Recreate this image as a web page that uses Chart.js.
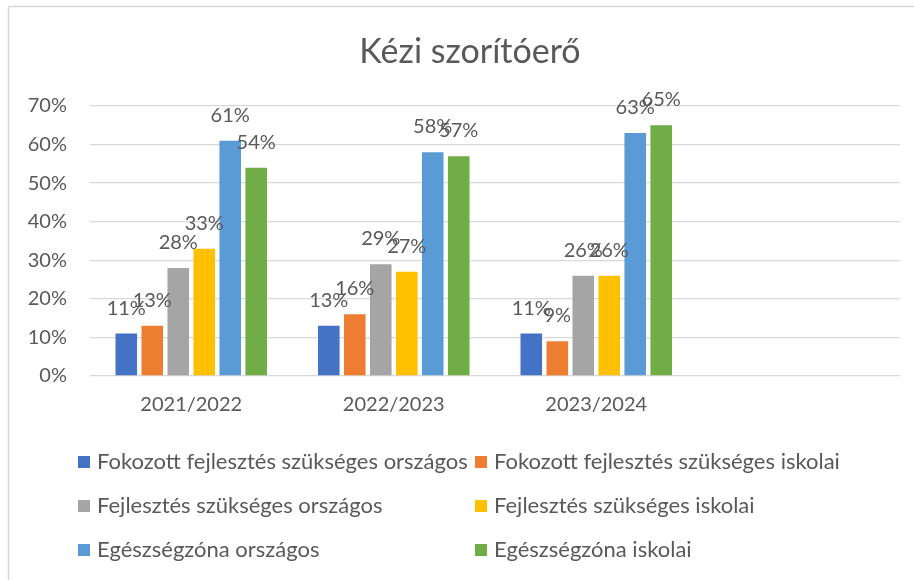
<!DOCTYPE html>
<html lang="hu">
<head>
    <meta charset="UTF-8">
    <title>Kézi szorítóerő</title>
    <script src="https://cdn.jsdelivr.net/npm/chart.js"></script>
    <style>
        body { margin: 0; background: #fff; }
    </style>
</head>
<body>
    <canvas id="gripChart" width="914" height="580"></canvas>

    <script>
        // data (percent)
        const chartTitle = 'Kézi szorítóerő';
        const years = ['2021/2022', '2022/2023', '2023/2024', ''];
        const seriesNames = [
            'Fokozott fejlesztés szükséges országos',
            'Fokozott fejlesztés szükséges iskolai',
            'Fejlesztés szükséges országos',
            'Fejlesztés szükséges iskolai',
            'Egészségzóna országos',
            'Egészségzóna iskolai'
        ];
        const fokozottOrszagos = [11, 13, 11];
        const fokozottIskolai = [13, 16, 9];
        const fejlesztesOrszagos = [28, 29, 26];
        const fejlesztesIskolai = [33, 27, 26];
        const egeszsegOrszagos = [61, 58, 63];
        const egeszsegIskolai = [54, 57, 65];
        const colors = ['#4472C4', '#ED7D31', '#A5A5A5', '#FFC000', '#5B9BD5', '#70AD47'];

        const allValues = [fokozottOrszagos, fokozottIskolai, fejlesztesOrszagos,
                           fejlesztesIskolai, egeszsegOrszagos, egeszsegIskolai];

        const textColor = '#595959';
        const fontFamily = 'Lato, "Open Sans", sans-serif';

        // outer frame + title (title centred on the whole frame, not the canvas)
        const framePlugin = {
            id: 'frame',
            beforeDraw(chart) {
                const ctx = chart.ctx;
                ctx.save();
                ctx.strokeStyle = '#d9d9d9';
                ctx.lineWidth = 1.5;
                ctx.strokeRect(8.5, 6.5, 1000, 1000);
                ctx.font = '34px ' + fontFamily;
                ctx.fillStyle = textColor;
                ctx.textAlign = 'center';
                ctx.textBaseline = 'alphabetic';
                ctx.fillText(chartTitle, 470, 63);
                ctx.restore();
            }
        };

        // value labels above the bars
        const valueLabels = {
            id: 'valueLabels',
            afterDatasetsDraw(chart) {
                const ctx = chart.ctx;
                ctx.save();
                ctx.font = '20px ' + fontFamily;
                ctx.fillStyle = textColor;
                ctx.textAlign = 'center';
                ctx.textBaseline = 'alphabetic';
                chart.data.datasets.forEach((ds, i) => {
                    chart.getDatasetMeta(i).data.forEach((bar, j) => {
                        const v = ds.data[j];
                        if (v == null) return;
                        ctx.fillText(v + '%', bar.x, bar.y - 19);
                    });
                });
                ctx.restore();
            }
        };

        // two-column legend under the chart
        const gridLegend = {
            id: 'gridLegend',
            afterDraw(chart) {
                const ctx = chart.ctx;
                const cols = [78, 475];
                const rows = [462, 506, 550];
                ctx.save();
                ctx.font = '22px ' + fontFamily;
                ctx.textBaseline = 'middle';
                ctx.textAlign = 'left';
                chart.data.datasets.forEach((ds, i) => {
                    const x = cols[i % 2];
                    const y = rows[Math.floor(i / 2)];
                    ctx.fillStyle = ds.backgroundColor;
                    ctx.fillRect(x, y - 6, 12, 12);
                    ctx.fillStyle = textColor;
                    ctx.fillText(ds.label, x + 19, y);
                });
                ctx.restore();
            }
        };

        const ctx = document.getElementById('gripChart').getContext('2d');

        const gripChart = new Chart(ctx, {
            type: 'bar',
            data: {
                labels: years,
                datasets: seriesNames.map((name, i) => ({
                    label: name,
                    data: allValues[i],
                    backgroundColor: colors[i],
                    categoryPercentage: 0.77,
                    barPercentage: 0.83
                }))
            },
            options: {
                responsive: false,
                animation: false,
                layout: {
                    padding: { top: 106, left: 0, right: 14, bottom: 0 }
                },
                plugins: {
                    legend: { display: false },
                    tooltip: { enabled: false },
                    title: { display: false }
                },
                scales: {
                    x: {
                        grid: { display: false, drawTicks: false },
                        border: { display: false },
                        ticks: {
                            color: textColor,
                            font: { family: fontFamily, size: 20 },
                            padding: 17
                        },
                        afterFit(scale) { scale.height = 204; }
                    },
                    y: {
                        min: 0,
                        max: 70,
                        grid: { color: '#d9d9d9', lineWidth: 1.3, drawTicks: false },
                        border: { display: false },
                        ticks: {
                            stepSize: 10,
                            color: textColor,
                            font: { family: fontFamily, size: 20 },
                            padding: 23,
                            callback: (v) => v + '%'
                        },
                        afterFit(scale) { scale.width = 90; }
                    }
                }
            },
            plugins: [framePlugin, valueLabels, gridLegend]
        });
    </script>
</body>
</html>
